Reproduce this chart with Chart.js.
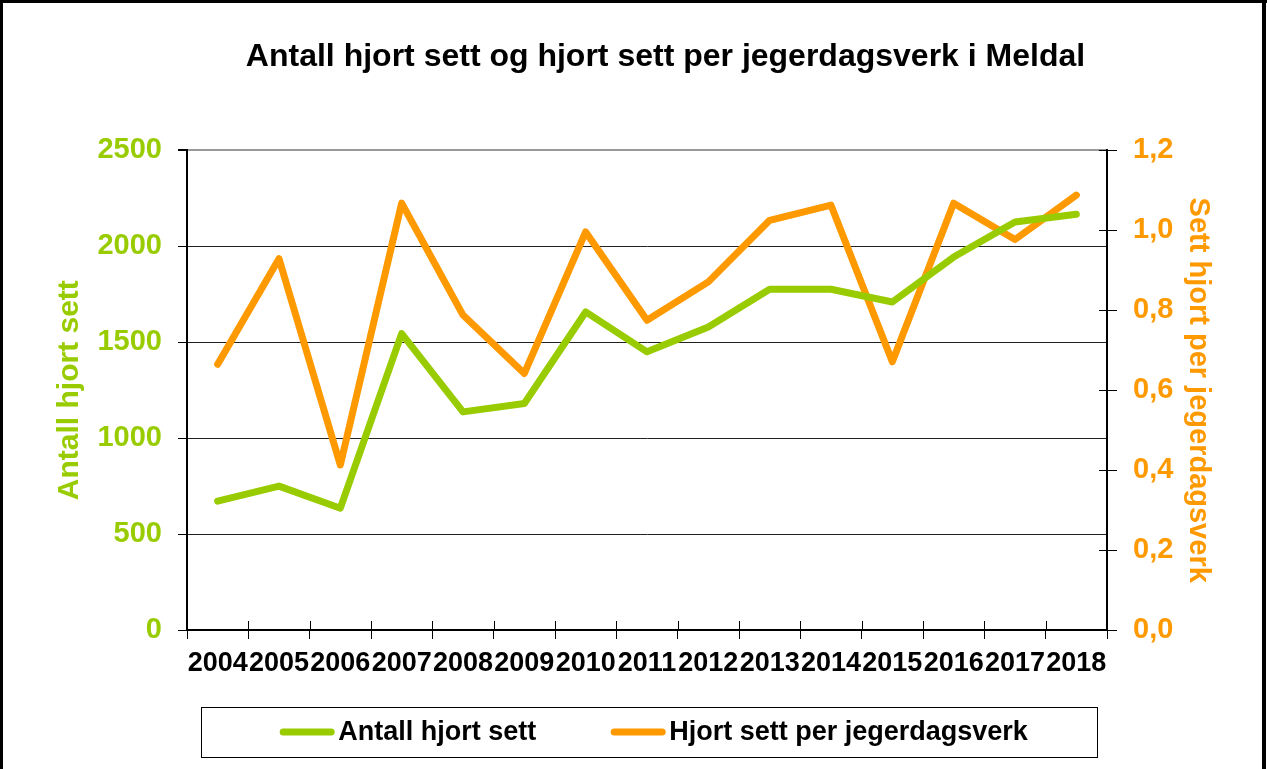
<!DOCTYPE html>
<html>
<head>
<meta charset="utf-8">
<script src="https://cdn.jsdelivr.net/npm/chart.js@4.4.0/dist/chart.umd.min.js"></script>
<style>
  html, body { margin: 0; padding: 0; background: #fff; }
  #wrap { width: 1267px; height: 769px; }
</style>
</head>
<body>
<div id="wrap"><canvas id="hjortChart" width="1267" height="769"></canvas></div>
<script>
// Data
const years = ['2004', '2005', '2006', '2007', '2008', '2009', '2010', '2011',
               '2012', '2013', '2014', '2015', '2016', '2017', '2018'];
const antallSett = [672, 750, 635, 1545, 1137, 1181, 1658, 1450, 1580, 1776, 1776, 1710, 1944, 2127, 2167];
const settPerDagsverk = [0.665, 0.929, 0.413, 1.068, 0.788, 0.642, 0.996, 0.775, 0.871, 1.025, 1.063, 0.671, 1.068, 0.977, 1.088];

const leftAxisMax = 2500;
const leftAxisStep = 500;
const rightAxisMax = 1.2;
const rightAxisStep = 0.2;

const GREEN = '#99cc00';
const ORANGE = '#ff9900';
const FONT = '"Liberation Sans", Arial, sans-serif';

// white background + outer frame, title nudged right like the original
const framePlugin = {
    id: 'frame',
    afterLayout(chart) {
        if (chart.titleBlock) chart.titleBlock.left += 64;
    },
    beforeDraw(chart) {
        const ctx = chart.ctx;
        ctx.save();
        ctx.fillStyle = '#fff';
        ctx.fillRect(0, 0, chart.width, chart.height);
        ctx.restore();
    },
    afterDraw(chart) {
        const ctx = chart.ctx;
        ctx.save();
        ctx.fillStyle = '#000';
        ctx.fillRect(0, 0, chart.width, 3);
        ctx.fillRect(0, 0, 3, chart.height);
        ctx.fillRect(chart.width - 5, 0, 4, chart.height);
        ctx.restore();
    }
};

// tick marks that cross the x axis and the right axis
const crossTicksPlugin = {
    id: 'crossTicks',
    beforeDatasetsDraw(chart) {
        const ctx = chart.ctx;
        const xs = chart.scales.x;
        const yr = chart.scales.yRight;
        ctx.save();
        ctx.strokeStyle = '#000';
        ctx.lineWidth = 1;
        ctx.beginPath();
        const n = years.length;
        for (let i = 0; i <= n; i++) {
            const px = Math.round(xs.left + i * xs.width / n) + 0.5;
            ctx.moveTo(px, xs.top - 9);
            ctx.lineTo(px, xs.top);
        }
        yr.ticks.forEach((t, i) => {
            const py = Math.round(yr.getPixelForTick(i)) + 0.5;
            ctx.moveTo(yr.left - 8, py);
            ctx.lineTo(yr.left, py);
        });
        ctx.stroke();
        ctx.restore();
    }
};

// boxed legend under the chart
const legendBoxPlugin = {
    id: 'legendBox',
    afterDraw(chart) {
        const ctx = chart.ctx;
        const area = chart.chartArea;
        const boxLeft = area.left + 14;
        const boxRight = area.right - 10;
        const boxTop = area.bottom + 77;
        const boxHeight = 50;
        ctx.save();
        ctx.strokeStyle = '#000';
        ctx.lineWidth = 1;
        ctx.strokeRect(boxLeft + 0.5, boxTop + 0.5, boxRight - boxLeft, boxHeight);

        ctx.font = 'bold 27px ' + FONT;
        ctx.textBaseline = 'middle';
        const sample = 54, gap = 4, itemGap = 75;
        const items = chart.data.datasets.map(ds => ({
            label: ds.label,
            color: ds.borderColor,
            w: ctx.measureText(ds.label).width
        }));
        const total = items.reduce((s, it) => s + sample + gap + it.w, 0) + itemGap * (items.length - 1);
        let x = (boxLeft + boxRight) / 2 - total / 2 + 5;
        const cy = boxTop + boxHeight / 2;
        items.forEach(it => {
            ctx.strokeStyle = it.color;
            ctx.lineWidth = 7;
            ctx.lineCap = 'round';
            ctx.beginPath();
            ctx.moveTo(x + 3, cy);
            ctx.lineTo(x + sample - 3, cy);
            ctx.stroke();
            ctx.fillStyle = '#000';
            ctx.fillText(it.label, x + sample + gap, cy + 1);
            x += sample + gap + it.w + itemGap;
        });
        ctx.restore();
    }
};

const ctx = document.getElementById('hjortChart').getContext('2d');

const chart = new Chart(ctx, {
    type: 'line',
    data: {
        labels: years,
        datasets: [{
            label: 'Antall hjort sett',
            data: antallSett,
            borderColor: GREEN,
            backgroundColor: GREEN,
            borderWidth: 7,
            pointRadius: 0,
            tension: 0,
            borderJoinStyle: 'round',
            borderCapStyle: 'round',
            yAxisID: 'yLeft'
        }, {
            label: 'Hjort sett per jegerdagsverk',
            data: settPerDagsverk,
            borderColor: ORANGE,
            backgroundColor: ORANGE,
            borderWidth: 7,
            pointRadius: 0,
            tension: 0,
            borderJoinStyle: 'round',
            borderCapStyle: 'round',
            yAxisID: 'yRight'
        }]
    },
    options: {
        responsive: false,
        animation: false,
        devicePixelRatio: 1,
        layout: { padding: 0 },
        plugins: {
            legend: { display: false },
            tooltip: { enabled: false },
            title: {
                display: true,
                text: 'Antall hjort sett og hjort sett per jegerdagsverk i Meldal',
                color: '#000',
                font: { family: FONT, size: 32, weight: 'bold' },
                padding: { top: 38, bottom: 74 }
            }
        },
        scales: {
            x: {
                type: 'category',
                offset: true,
                grid: {
                    offset: true,
                    drawOnChartArea: false,
                    tickLength: 9,
                    tickColor: '#000'
                },
                border: { color: '#000', width: 2 },
                ticks: {
                    color: '#000',
                    font: { family: FONT, size: 27, weight: 'bold' },
                    autoSkip: false,
                    maxRotation: 0,
                    minRotation: 0,
                    padding: 8
                },
                afterFit(scale) { scale.height = 139; }
            },
            yLeft: {
                position: 'left',
                min: 0,
                max: leftAxisMax,
                ticks: {
                    stepSize: leftAxisStep,
                    color: GREEN,
                    font: { family: FONT, size: 29, weight: 'bold' },
                    padding: 16,
                    callback: v => String(v)
                },
                grid: {
                    color: ctx => ctx.tick && ctx.tick.value === leftAxisMax ? '#999' : '#222',
                    lineWidth: ctx => ctx.tick && ctx.tick.value === leftAxisMax ? 2 : 1,
                    tickLength: 9,
                    tickColor: '#000'
                },
                border: { color: '#000', width: 2 },
                title: {
                    display: true,
                    text: 'Antall hjort sett',
                    color: GREEN,
                    font: { family: FONT, size: 30, weight: 'bold' },
                    padding: { top: 52, bottom: 0 }
                },
                afterFit(scale) { scale.width = 187; }
            },
            yRight: {
                position: 'right',
                min: 0,
                max: rightAxisMax,
                ticks: {
                    stepSize: rightAxisStep,
                    color: ORANGE,
                    font: { family: FONT, size: 29, weight: 'bold' },
                    padding: 16,
                    callback: v => v.toFixed(1).replace('.', ',')
                },
                grid: {
                    drawOnChartArea: false,
                    tickLength: 10,
                    tickColor: '#000'
                },
                border: { color: '#000', width: 2 },
                title: {
                    display: true,
                    text: 'Sett hjort per jegerdagsverk',
                    color: ORANGE,
                    font: { family: FONT, size: 29, weight: 'bold' },
                    padding: { top: 52, bottom: 0 }
                },
                afterFit(scale) { scale.width = 160; }
            }
        }
    },
    plugins: [framePlugin, crossTicksPlugin, legendBoxPlugin]
});
</script>
</body>
</html>
